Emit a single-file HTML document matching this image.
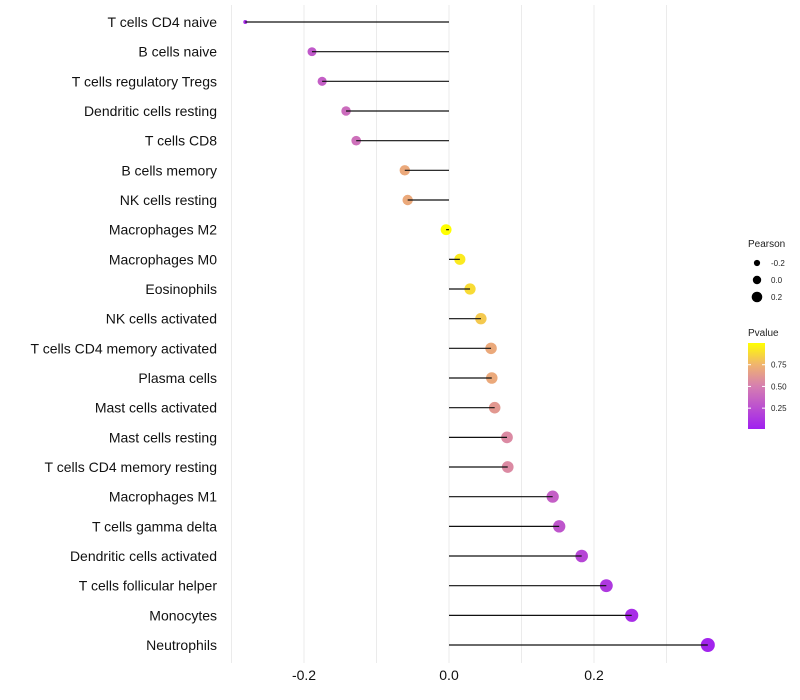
<!DOCTYPE html>
<html><head><meta charset="utf-8"><style>
body{margin:0;background:#fff;font-family:"Liberation Sans",sans-serif}
svg{display:block}
</style></head><body>
<svg id="chart" width="800" height="700"></svg>
<script>
const categories=["T cells CD4 naive","B cells naive","T cells regulatory  Tregs","Dendritic cells resting","T cells CD8","B cells memory","NK cells resting","Macrophages M2","Macrophages M0","Eosinophils","NK cells activated","T cells CD4 memory activated","Plasma cells","Mast cells activated","Mast cells resting","T cells CD4 memory resting","Macrophages M1","T cells gamma delta","Dendritic cells activated","T cells follicular helper","Monocytes","Neutrophils"];
const pearson=[-0.281,-0.189,-0.175,-0.142,-0.128,-0.061,-0.057,-0.004,0.015,0.029,0.044,0.058,0.059,0.063,0.080,0.081,0.143,0.152,0.183,0.217,0.252,0.357];
const pvalue=[0.06,0.3,0.33,0.4,0.42,0.7,0.7,1.0,0.93,0.88,0.82,0.7,0.7,0.62,0.55,0.55,0.33,0.28,0.2,0.13,0.07,0.02];
const xTicks=[-0.2,0.0,0.2];
const xTickLabels=["-0.2","0.0","0.2"];
const legendSizes=[-0.2,0.0,0.2];
const legendSizeLabels=["-0.2","0.0","0.2"];
const pTicks=[0.25,0.50,0.75];
const pTickLabels=["0.25","0.50","0.75"];

const NS="http://www.w3.org/2000/svg";
const svg=document.getElementById('chart');
function mk(t,a,p){const e=document.createElementNS(NS,t);for(const k in a)e.setAttribute(k,a[k]);(p||svg).appendChild(e);return e;}
const x=v=>449+v*725;
const y=i=>22+i*29.667;
const r=v=>v>-0.2?Math.sqrt(30+53*v):Math.max(1.8,4.5-(-0.2-v)*31);
const rLeg=v=>4.2+5.5*v;
function lerp(a,b,t){return a.map((c,i)=>Math.round(c+(b[i]-c)*t));}
const stops=[[0,[160,32,240]],[0.5,[214,127,176]],[0.75,[240,180,110]],[1,[255,255,0]]];
function col(p){for(let i=1;i<stops.length;i++){if(p<=stops[i][0]){const t=(p-stops[i-1][0])/(stops[i][0]-stops[i-1][0]);return 'rgb('+lerp(stops[i-1][1],stops[i][1],t).join(',')+')';}}return 'rgb(255,255,0)';}

[-0.3,-0.2,-0.1,0,0.1,0.2,0.3].forEach(v=>{
 const g=mk('line',{x1:x(v),x2:x(v),y1:5,y2:663,stroke:'#ebebeb','stroke-width':1});
 
 
});
xTicks.forEach((v,i)=>{
 const t=mk('text',{x:x(v),y:680,'text-anchor':'middle','font-size':14,fill:'#111'});t.textContent=xTickLabels[i];
 
 
});
categories.forEach((c,i)=>{
 const t=mk('text',{x:217,y:y(i)+5,'text-anchor':'end','font-size':14,fill:'#111'});t.textContent=c;
 
 
 const pt=mk('circle',{cx:x(pearson[i]),cy:y(i),r:r(pearson[i]),fill:col(pvalue[i])});
 
 
 const l=mk('line',{x1:x(0),x2:x(pearson[i]),y1:y(i),y2:y(i),stroke:'#111','stroke-width':1.2});
 
 
});
const lt=mk('text',{x:748,y:247,'font-size':10,fill:'#222'});lt.textContent='Pearson';


legendSizes.forEach((v,i)=>{
 const cy=263+i*17;
 const c=mk('circle',{cx:757,cy:cy,r:rLeg(v),fill:'#000'});
 
 
 const t=mk('text',{x:771,y:cy+3,'font-size':8,fill:'#222'});t.textContent=legendSizeLabels[i];
 
 
});
const pt2=mk('text',{x:748,y:336,'font-size':10,fill:'#222'});pt2.textContent='Pvalue';


const defs=mk('defs',{});
const lg=mk('linearGradient',{id:'pg',x1:0,y1:1,x2:0,y2:0},defs);
stops.forEach(s=>mk('stop',{offset:s[0],'stop-color':'rgb('+s[1].join(',')+')'},lg));
const bar=mk('rect',{x:748,y:343,width:17,height:86,fill:'url(#pg)'});


const pY=p=>429-(p-0.01)/(0.99)*86;
pTicks.forEach((p,i)=>{
 mk('line',{x1:748,x2:751,y1:pY(p),y2:pY(p),stroke:'#fff'});
 mk('line',{x1:762,x2:765,y1:pY(p),y2:pY(p),stroke:'#fff'});
 const t=mk('text',{x:771,y:pY(p)+3,'font-size':8,fill:'#222'});t.textContent=pTickLabels[i];
 
 
});
</script>
</body></html>
